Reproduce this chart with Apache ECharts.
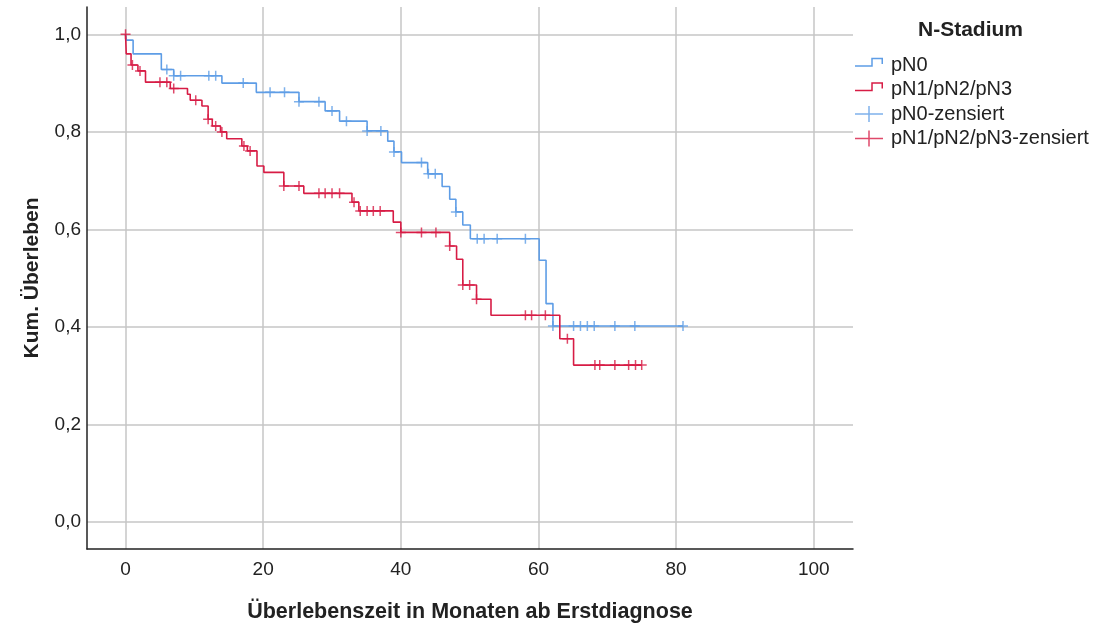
<!DOCTYPE html>
<html>
<head>
<meta charset="utf-8">
<script src="https://cdn.jsdelivr.net/npm/echarts@6/dist/echarts.min.js"></script>
<style>
  html, body { margin: 0; padding: 0; background: #fff; }
  #chart { width: 1098px; height: 628px; }
</style>
</head>
<body>
<div id="chart"></div>
<script>
// Kaplan-Meier steps: time of each step (months) and survival after it
const pN0Times = [0, 0.1, 1.1, 5.2, 7.0, 14.0, 19.0, 25.2, 29.0, 31.1, 35.1, 38.1, 39.0, 40.1, 43.9, 46.0, 47.1, 48.0, 49.0, 50.1, 60.1, 61.1, 62.1]
const pN0Surv = [1.0, 0.988, 0.960, 0.928, 0.915, 0.900, 0.881, 0.862, 0.843, 0.822, 0.802, 0.781, 0.759, 0.737, 0.714, 0.688, 0.662, 0.636, 0.609, 0.581, 0.537, 0.448, 0.402]
const pN0Censored = [6.0, 7.0, 8.0, 12.1, 13.1, 17.1, 21.0, 23.1, 25.2, 28.1, 30.0, 32.1, 35.1, 37.1, 39.0, 43.0, 44.0, 45.0, 48.0, 51.1, 52.1, 54.0, 58.1, 62.1, 65.1, 66.1, 67.1, 68.1, 71.1, 74.0, 81.0]

const pN123Times = [0, 0.1, 0.8, 1.8, 2.9, 6.5, 9.0, 9.4, 11.1, 12.0, 12.6, 13.8, 14.7, 16.9, 17.7, 19.1, 20.1, 23.0, 25.9, 32.9, 33.9, 38.9, 40.0, 47.1, 48.1, 49.0, 51.0, 53.1, 63.1, 65.1]
const pN123Surv = [1.0, 0.960, 0.937, 0.925, 0.902, 0.889, 0.877, 0.865, 0.853, 0.826, 0.812, 0.800, 0.786, 0.771, 0.761, 0.730, 0.717, 0.689, 0.674, 0.656, 0.638, 0.615, 0.594, 0.566, 0.539, 0.486, 0.457, 0.424, 0.376, 0.322]
const pN123Censored = [0, 1.0, 2.1, 5.0, 6.0, 7.0, 10.2, 12.0, 13.1, 14.0, 17.2, 18.1, 23.0, 25.2, 28.1, 29.0, 30.0, 31.1, 33.2, 34.1, 35.1, 36.0, 37.0, 40.0, 43.0, 45.1, 47.1, 49.0, 50.0, 51.0, 58.1, 59.0, 61.0, 64.2, 68.2, 68.9, 71.1, 73.1, 74.1, 75.0]

const seriesNames = ['pN0', 'pN1/pN2/pN3', 'pN0-zensiert', 'pN1/pN2/pN3-zensiert']

const BLUE = '#5e9de6'
const RED = '#d71c45'
const FONT = "'Liberation Sans', Arial, sans-serif"

// step line points, extended to the last censored case
const stepData = (times, surv, censored) => {
  const pts = times.map((t, i) => [t, surv[i]])
  const last = Math.max(...censored)
  if (last > times[times.length - 1]) pts.push([last, surv[surv.length - 1]])
  return pts
}
// survival level the curve has at time t
const levelAt = (times, surv, t) => {
  let v = surv[0]
  for (let i = 0; i < times.length; i++) {
    if (times[i] <= t) v = surv[i]
  }
  return v
}
const censorData = (times, surv, censored) => censored.map(t => [t, levelAt(times, surv, t)])

const plus = 'path://M-0.15,-1H0.15V-0.15H1V0.15H0.15V1H-0.15V0.15H-1V-0.15H-0.15Z'
const stepIcon = 'path://M0,0h0.01v0.01zM28,16h-0.01v-0.01zM0,8.25H16.25V0.75H28V7H26.5V2.25H17.75V9.75H0Z'
const crossIcon = 'path://M0,7.25H13.25V0H14.75V7.25H28V8.75H14.75V16H13.25V8.75H0Z'

const chart = echarts.init(document.getElementById('chart'))
chart.setOption({
  animation: false,
  backgroundColor: '#fff',
  textStyle: { fontFamily: FONT },
  title: {
    text: 'N-Stadium',
    left: 918,
    top: 20,
    padding: 0,
    textStyle: { fontSize: 21, fontWeight: 'bold', color: '#222', fontFamily: FONT },
  },
  legend: {
    orient: 'vertical',
    left: 855,
    top: 55,
    padding: 0,
    itemWidth: 28,
    itemHeight: 16,
    itemGap: 4.5,
    itemStyle: { borderWidth: 0 },
    textStyle: { fontSize: 20, color: '#222', fontFamily: FONT, padding: [0, 0, 0, 3] },
    data: [
      { name: seriesNames[0], icon: stepIcon },
      { name: seriesNames[1], icon: stepIcon },
      { name: seriesNames[2], icon: crossIcon },
      { name: seriesNames[3], icon: crossIcon },
    ],
  },
  grid: { left: 87, right: 245, top: 7, bottom: 78 },
  xAxis: {
    type: 'value',
    min: -5.6,
    max: 105.7,
    splitNumber: 5,
    name: 'Überlebenszeit in Monaten ab Erstdiagnose',
    nameLocation: 'middle',
    nameGap: 52,
    nameTextStyle: { fontSize: 21.5, fontWeight: 'bold', color: '#222', fontFamily: FONT },
    axisLine: { onZero: false, lineStyle: { color: '#222', width: 1.5 } },
    axisTick: { show: false },
    axisLabel: { showMinLabel: false, showMaxLabel: false, margin: 11, fontSize: 19, color: '#222', fontFamily: FONT },
    splitLine: { show: true, showMinLine: false, showMaxLine: false, lineStyle: { color: '#c6c6c6', width: 1.5 } },
  },
  yAxis: {
    type: 'value',
    min: -0.055,
    max: 1.056,
    splitNumber: 5,
    name: 'Kum. Überleben',
    nameLocation: 'middle',
    nameRotate: 90,
    nameGap: 44,
    nameTextStyle: { fontSize: 21, fontWeight: 'bold', color: '#222', fontFamily: FONT },
    axisLine: { show: true, onZero: false, lineStyle: { color: '#222', width: 1.5 } },
    axisTick: { show: false },
    axisLabel: {
      showMinLabel: false,
      showMaxLabel: false,
      margin: 6,
      fontSize: 19,
      color: '#222',
      fontFamily: FONT,
      formatter: v => v.toFixed(1).replace('.', ','),
    },
    splitLine: { show: true, showMinLine: false, showMaxLine: false, lineStyle: { color: '#c6c6c6', width: 1.5 } },
  },
  series: [
    {
      name: seriesNames[0],
      type: 'line',
      step: 'end',
      symbol: 'none',
      color: BLUE,
      lineStyle: { color: BLUE, width: 1.6 },
      data: stepData(pN0Times, pN0Surv, pN0Censored),
      z: 2,
    },
    {
      name: seriesNames[1],
      type: 'line',
      step: 'end',
      symbol: 'none',
      color: RED,
      lineStyle: { color: RED, width: 1.6 },
      data: stepData(pN123Times, pN123Surv, pN123Censored),
      z: 3,
    },
    {
      name: seriesNames[2],
      type: 'scatter',
      symbol: plus,
      symbolSize: 10,
      color: BLUE,
      itemStyle: { color: BLUE },
      data: censorData(pN0Times, pN0Surv, pN0Censored),
      z: 4,
    },
    {
      name: seriesNames[3],
      type: 'scatter',
      symbol: plus,
      symbolSize: 10,
      color: RED,
      itemStyle: { color: RED },
      data: censorData(pN123Times, pN123Surv, pN123Censored),
      z: 5,
    },
  ],
})
</script>
</body>
</html>
